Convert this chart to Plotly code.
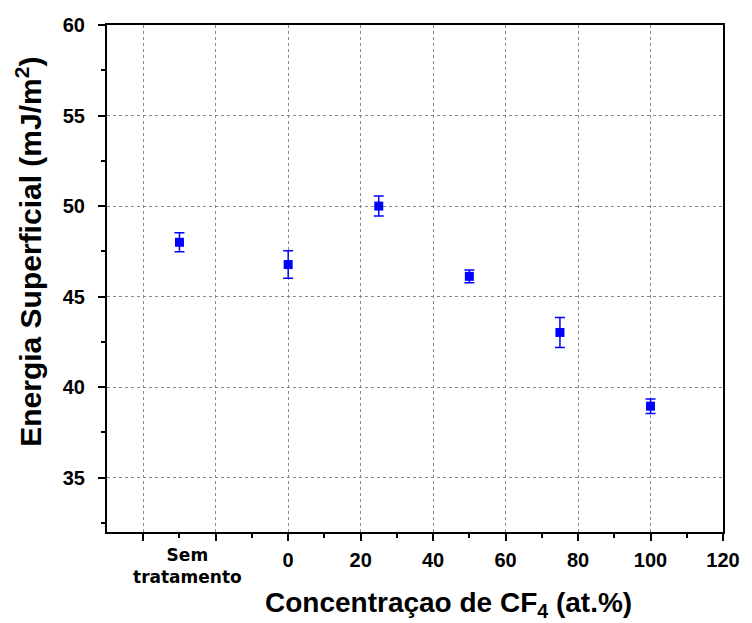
import plotly.graph_objects as go

# Surface energy vs CF4 concentration (untreated sample plotted at x = -30)
x_vals = [-30, 0, 25, 50, 75, 100]
energy = [48.0, 46.77, 50.0, 46.12, 43.02, 38.95]
energy_err = [0.52, 0.76, 0.55, 0.35, 0.83, 0.4]

x_tickvals = [-40, -20, 0, 20, 40, 60, 80, 100, 120]
x_ticktext = ["", "", "0", "20", "40", "60", "80", "100", "120"]
y_tickvals = [35, 40, 45, 50, 55, 60]
untreated_label = "Sem<br>tratamento"
x_title = "Concentraçao de CF<sub>4</sub> (at.%)"
y_title = "Energia Superficial (mJ/m<sup>2</sup>)"

SANS = "Liberation Sans, Arial"
M_L, M_R, M_T, M_B = 107, 23, 25, 91
W, H = 752, 623

fig = go.Figure()
fig.add_trace(go.Scatter(
    x=x_vals, y=energy,
    mode="markers",
    marker=dict(symbol="square", size=9, color="#0000FF"),
    error_y=dict(type="data", array=energy_err, visible=True,
                 color="#0000FF", thickness=1.5, width=5),
    showlegend=False,
))

tick_font = dict(family=SANS, size=20, color="black", weight="bold")
common = dict(
    ticks="outside", ticklen=7, tickwidth=2, tickcolor="black",
    showline=True, linewidth=2, linecolor="black", mirror=True,
    showgrid=True, gridcolor="#8a8a8a", griddash="dot", gridwidth=1,
    zeroline=False, tickfont=tick_font,
)

fig.update_xaxes(
    range=[-50, 120],
    tickmode="array", tickvals=x_tickvals, ticktext=x_ticktext,
    minor=dict(tickmode="array", tickvals=[-30, -10, 10, 30, 50, 70, 90, 110],
               ticks="outside", ticklen=4, tickwidth=2, tickcolor="black"),
    ticklabelstandoff=2,
    **common,
)
fig.update_yaxes(
    range=[32, 60],
    tickmode="array", tickvals=y_tickvals,
    minor=dict(dtick=2.5, tick0=0, ticks="outside", ticklen=4,
               tickwidth=2, tickcolor="black"),
    ticklabelstandoff=9,
    **common,
)

# Axis titles (positions given in pixels, converted below)
fig.add_annotation(
    x=452, y=604, xref="paper", yref="paper", text=x_title,
    showarrow=False, xanchor="center", yanchor="middle",
    font=dict(family=SANS, size=28, color="black", weight="bold"),
)
fig.add_annotation(
    x=28, y=252, xref="paper", yref="paper", text=y_title,
    showarrow=False, xanchor="center", yanchor="middle", textangle=-90,
    font=dict(family=SANS, size=30, color="black", weight="bold"),
)

# Label under the untreated sample
fig.add_annotation(
    x=-30, y=0, xref="x", yref="paper",
    text=untreated_label,
    showarrow=False, xanchor="center", yanchor="top",
    xshift=8, yshift=-11,
    font=dict(family="DejaVu Sans", size=17, color="black", weight="bold"),
)

fig.update_layout(
    width=W, height=H,
    margin=dict(l=M_L, r=M_R, t=M_T, b=M_B),
    paper_bgcolor="white", plot_bgcolor="white",
    font=dict(family=SANS, color="black"),
)

# Convert pixel positions of the titles into paper coordinates
plot_w = W - M_L - M_R
plot_h = H - M_T - M_B
for ann in fig.layout.annotations:
    if ann.xref == "paper" and ann.yref == "paper":
        ann.x = (ann.x - M_L) / plot_w
        ann.y = 1 - (ann.y - M_T) / plot_h

fig.write_html("out.html")
